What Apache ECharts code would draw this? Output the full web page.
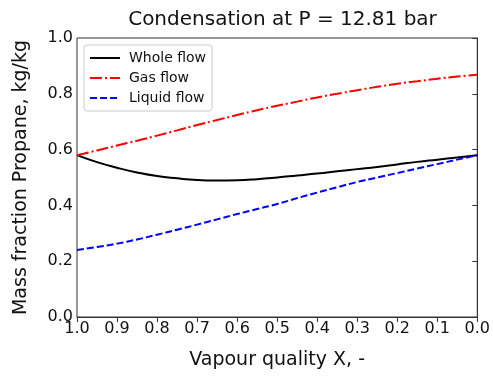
<!DOCTYPE html>
<html>
<head>
<meta charset="utf-8">
<script src="https://cdn.jsdelivr.net/npm/echarts@6/dist/echarts.min.js"></script>
<style>html,body{margin:0;padding:0;background:#fff}#c{width:493px;height:376px}</style>
</head>
<body>
<div id="c"></div>
<script>
const quality = [1.0,0.95,0.9,0.85,0.8,0.75,0.7,0.65,0.6,0.55,0.5,0.45,0.4,0.35,0.3,0.25,0.2,0.15,0.1,0.05,0.0];
const wholeFlow = [0.580,0.555,0.535,0.518,0.505,0.497,0.491,0.489,0.490,0.494,0.500,0.507,0.514,0.522,0.530,0.538,0.547,0.556,0.564,0.572,0.580];
const gasFlow = [0.580,0.597,0.615,0.632,0.650,0.669,0.688,0.706,0.724,0.741,0.757,0.772,0.787,0.800,0.813,0.825,0.836,0.845,0.854,0.862,0.868];
const liquidFlow = [0.240,0.251,0.263,0.278,0.295,0.313,0.331,0.350,0.369,0.387,0.405,0.426,0.446,0.465,0.484,0.500,0.516,0.532,0.548,0.564,0.580];
const titleText = 'Condensation at P = 12.81 bar';
const xName = 'Vapour quality X, -';
const yName = 'Mass fraction Propane, kg/kg';

const F = 'DejaVu Sans';
const pairs = arr => quality.map((q,i)=>[q,arr[i]]);
const chart = echarts.init(document.getElementById('c'), null, {renderer:'canvas'});
const axisCommon = {
  axisLine:{show:true,lineStyle:{color:'#333',width:1}},
  axisTick:{show:true,inside:false,length:5,lineStyle:{color:'#333'}},
  splitLine:{show:false},
  axisLabel:{color:'#111',fontFamily:F,fontSize:16,margin:4,formatter:v=>v.toFixed(1)},
  nameLocation:'middle',
  nameTextStyle:{color:'#111',fontFamily:F,fontSize:19}
};
chart.setOption({
  animation:false,
  backgroundColor:'#fff',
  title:{text:titleText,left:277.5,textAlign:'center',top:5,textStyle:{fontFamily:F,fontSize:20,fontWeight:'normal',color:'#111'}},
  grid:{left:77,right:15,top:38,bottom:59,show:true,borderColor:'#333',borderWidth:1},
  legend:{
    orient:'vertical',left:84,top:45,
    itemWidth:30,itemHeight:10,itemGap:6,
    padding:[6,6,6,5],
    borderColor:'#ccc',borderWidth:1,borderRadius:3,
    itemStyle:{opacity:0},
    textStyle:{fontFamily:F,fontSize:14,color:'#111',padding:[0,0,0,4]},
    data:['Whole flow','Gas flow','Liquid flow']
  },
  xAxis:Object.assign({},axisCommon,{type:'value',min:0,max:1,interval:0.1,inverse:true,name:xName,nameGap:34}),
  yAxis:Object.assign({},axisCommon,{type:'value',min:0,max:1,interval:0.2,name:yName,nameGap:46}),
  series:[
    {name:'Whole flow',type:'line',data:pairs(wholeFlow),smooth:true,symbol:'none',color:'#000',lineStyle:{color:'#000',width:2,type:'solid'}},
    {name:'Gas flow',type:'line',data:pairs(gasFlow),smooth:true,symbol:'none',color:'#ff0000',lineStyle:{color:'#ff0000',width:2,type:[12,3,2,3]}},
    {name:'Liquid flow',type:'line',data:pairs(liquidFlow),smooth:true,symbol:'none',color:'#0000ff',lineStyle:{color:'#0000ff',width:2,type:[7,3]}}
  ]
});
</script>
</body>
</html>
